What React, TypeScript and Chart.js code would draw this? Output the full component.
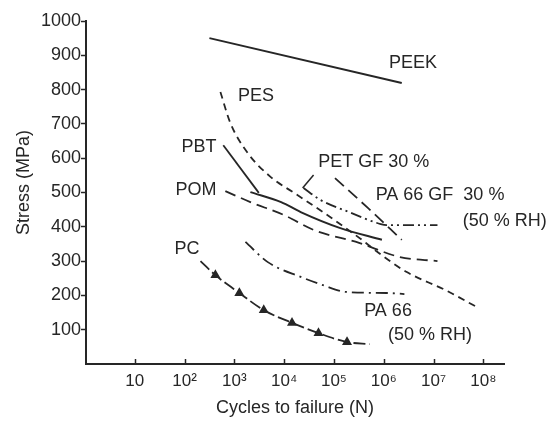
import React, { useEffect, useRef } from "react";
import { Chart, registerables } from "chart.js";

Chart.register(...registerables);

// x tick values (cycles) and y tick values (MPa)
const xTickValues = [10, 1e2, 1e3, 1e4, 1e5, 1e6, 1e7, 1e8];
const xTickLabels = ["10", "10²", "10³", "10⁴", "10⁵", "10⁶", "10⁷", "10⁸"];
const yTickValues = [100, 200, 300, 400, 500, 600, 700, 800, 900, 1000];

// series
const peekX = [316, 2.3e6];
const peekY = [950, 819];

const pesX = [525, 830, 1860, 5400, 15800, 60000, 170000, 440000, 740000, 2.9e6, 1.7e7, 8.1e7];
const pesY = [793, 703, 615, 545, 499, 443, 397, 353, 327, 268, 216, 163];

const pbtSteepX = [600, 3100];
const pbtSteepY = [638, 499];
const pbtCurveX = [2100, 8700, 21500, 130000, 920000];
const pbtCurveY = [501, 472, 443, 397, 362];

const pomX = [660, 2100, 10000, 39000, 320000, 2.1e6, 1.2e7];
const pomY = [504, 472, 434, 391, 353, 312, 300];

const petGfX = [24500, 54000, 200000, 870000, 1.15e6, 1.2e7];
const petGfY = [513, 478, 443, 408, 405, 405];

const pa66GfX = [105000, 480000, 2.3e6];
const pa66GfY = [542, 455, 362];

const pa66X = [1670, 4700, 21500, 60000, 177000, 1.15e6, 2.6e6];
const pa66Y = [356, 297, 254, 230, 210, 207, 204];

const pcX = [209, 417, 1260, 3900, 14400, 49000, 183000, 525000];
const pcY = [300, 259, 207, 157, 120, 90, 64, 58];
const pcMarkers = [0, 1, 1, 1, 1, 1, 1, 0];

const leaderX = [39000, 23500];
const leaderY = [551, 513];

// curve labels (text, x value, y value)
const labelTexts = ["PEEK", "PES", "PBT", "POM", "PC", "PET GF 30 %", "PA 66 GF  30 %", "(50 % RH)", "PA 66", "(50 % RH)"];
const labelX = [3.86e6, 2720, 195, 170, 112, 6.3e5, 1.35e7, 2.7e8, 1.22e6, 8.5e6];
const labelY = [878, 781, 633, 507, 335, 589, 493, 417, 155, 85];

const INK = "#262626";
const FONT = "'Liberation Sans', Arial, 'DejaVu Sans', sans-serif";

const pts = (xs: number[], ys: number[]) => xs.map((x, i) => ({ x, y: ys[i] }));

export default function App() {
  const ref = useRef<HTMLCanvasElement | null>(null);

  useEffect(() => {
    document.body.style.margin = "0";
    const canvas = ref.current;
    if (!canvas) return;

    const line = (data: any[], dash: number[], width = 1.8, extra: any = {}) => ({
      data,
      borderColor: INK,
      backgroundColor: INK,
      borderWidth: width,
      borderDash: dash,
      pointRadius: 0,
      cubicInterpolationMode: "monotone",
      fill: false,
      ...extra,
    });

    const labelPlugin = {
      id: "curveLabels",
      afterDatasetsDraw(chart: any) {
        const { ctx, scales } = chart;
        const xs = scales.x;
        const ys = scales.y;
        ctx.save();
        // inward x ticks
        ctx.strokeStyle = INK;
        ctx.lineWidth = 1.5;
        const bottom = chart.chartArea.bottom;
        xTickValues.forEach((v) => {
          const px = Math.round(xs.getPixelForValue(v)) + 0.5;
          ctx.beginPath();
          ctx.moveTo(px, bottom);
          ctx.lineTo(px, bottom - 5);
          ctx.stroke();
        });
        ctx.fillStyle = INK;
        ctx.font = `18px ${FONT}`;
        ctx.textAlign = "center";
        ctx.textBaseline = "middle";
        labelTexts.forEach((t, i) => {
          ctx.fillText(t, xs.getPixelForValue(labelX[i]), ys.getPixelForValue(labelY[i]));
        });
        ctx.restore();
      },
    };

    const chart = new Chart(canvas, {
      type: "line",
      data: {
        datasets: [
          line(pts(peekX, peekY), [], 2, { label: "PEEK", cubicInterpolationMode: "default", tension: 0 }),
          line(pts(pesX, pesY), [7, 5], 1.8, { label: "PES" }),
          line(pts(pbtSteepX, pbtSteepY), [], 1.8, { label: "PBT", tension: 0, cubicInterpolationMode: "default" }),
          line(pts(pbtCurveX, pbtCurveY), [], 2, { label: "PBT curve" }),
          line(pts(pomX, pomY), [11, 6], 1.8, { label: "POM" }),
          line(pts(petGfX, petGfY), [11, 4, 2, 4, 2, 4], 1.8, { label: "PET GF 30 %" }),
          line(pts(pa66GfX, pa66GfY), [12, 6], 1.8, { label: "PA 66 GF 30 %" }),
          line(pts(pa66X, pa66Y), [12, 5, 2, 5], 1.8, { label: "PA 66" }),
          line(pts(pcX, pcY), [12, 4], 1.8, {
            label: "PC",
            pointStyle: "triangle",
            pointRadius: pcMarkers.map((m) => (m ? 4 : 0)),
            pointBackgroundColor: INK,
            pointBorderColor: INK,
          }),
          line(pts(leaderX, leaderY), [], 1.5, { label: "leader", tension: 0, cubicInterpolationMode: "default" }),
        ],
      },
      options: {
        responsive: false,
        devicePixelRatio: 1,
        animation: false,
        events: [],
        layout: { padding: { top: 21, right: 53, left: 0, bottom: 0 } },
        plugins: {
          legend: { display: false },
          tooltip: { enabled: false },
        },
        scales: {
          x: {
            type: "logarithmic",
            min: 1.05,
            max: 2.6e8,
            afterFit: (s: any) => {
              s.height = 57;
            },
            afterBuildTicks: (s: any) => {
              s.ticks = xTickValues.map((v) => ({ value: v }));
            },
            grid: { drawOnChartArea: false, drawTicks: false },
            border: { display: true, color: INK, width: 2 },
            ticks: {
              autoSkip: false,
              maxRotation: 0,
              padding: 7,
              color: INK,
              font: { family: FONT, size: 17 },
              callback: (v: any) => {
                const i = xTickValues.findIndex((t) => Math.abs(Math.log10(t) - Math.log10(Number(v))) < 1e-6);
                return i >= 0 ? xTickLabels[i] : "";
              },
            },
            title: {
              display: true,
              text: "Cycles to failure (N)",
              color: INK,
              font: { family: FONT, size: 18 },
              padding: { top: 0, bottom: 2 },
            },
          },
          y: {
            type: "linear",
            min: 0,
            max: 1000,
            afterFit: (s: any) => {
              s.width = 86;
            },
            afterBuildTicks: (s: any) => {
              s.ticks = yTickValues.map((v) => ({ value: v }));
            },
            grid: { drawOnChartArea: false, drawTicks: true, tickLength: 5, tickWidth: 1.5, tickColor: INK },
            border: { display: true, color: INK, width: 2 },
            ticks: {
              padding: 0,
              color: INK,
              font: { family: FONT, size: 18 },
              callback: (v: any) => String(v),
            },
            title: {
              display: true,
              text: "    Stress (MPa)",
              color: INK,
              font: { family: FONT, size: 18 },
              padding: { top: 13, bottom: 0 },
            },
          },
        },
      },
      plugins: [labelPlugin],
    } as any);

    return () => chart.destroy();
  }, []);

  return (
    <div style={{ width: 557, height: 421, background: "#ffffff" }}>
      <canvas ref={ref} width={557} height={421} style={{ display: "block" }} />
    </div>
  );
}
